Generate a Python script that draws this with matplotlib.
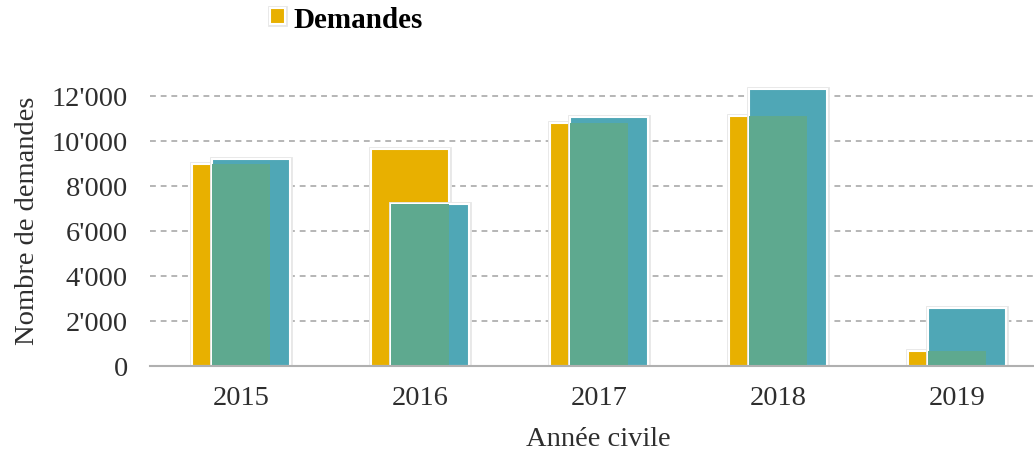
import matplotlib.pyplot as plt
import matplotlib.patheffects as pe
import numpy as np

years = ['2015', '2016', '2017', '2018', '2019']
demandes = [9000, 9650, 10800, 11100, 650]
second = [9200, 7200, 11050, 12300, 2580]
yticks = [0, 2000, 4000, 6000, 8000, 10000, 12000]
ytick_labels = ['0', "2'000", "4'000", "6'000", "8'000", "10'000", "12'000"]

yellow = '#E8B000'
teal = '#4FA7B6'
overlap = '#5EA98F'
text_col = '#2e2e2e'
fs = 20.5

plt.rcParams['font.family'] = ['Liberation Serif', 'DejaVu Serif']

fig = plt.figure(figsize=(10.34, 4.52), dpi=100)
ax = fig.add_axes([150 / 1034, 1 - 367 / 452, 1 - 150 / 1034, (367 - 74.5) / 452])

x = np.arange(len(years))
w = 0.435
off_y = -0.058
off_t = 0.053
shadow = [pe.Stroke(linewidth=3.5, foreground='#e8e8e8'), pe.Normal()]

yb = ax.bar(x + off_y, demandes, w, color=yellow, edgecolor='white',
            linewidth=1.5, zorder=3, path_effects=shadow, label='Demandes')
ax.bar(x + off_t, second, w, color=teal, edgecolor='white',
       linewidth=1.5, zorder=4, path_effects=shadow)
# region where the two bars overlap
ov_w = w - (off_t - off_y)
ax.bar(x + (off_t + off_y) / 2, np.minimum(demandes, second), ov_w,
       color=overlap, linewidth=0, zorder=5)

ax.set_xlim(-0.511, 4.427)
ax.set_ylim(0, 13000)
ax.set_yticks(yticks)
ax.set_yticklabels(ytick_labels)
ax.set_xticks(x)
ax.set_xticklabels(years)
ax.tick_params(axis='y', length=0, pad=16, labelsize=fs, labelcolor=text_col)
ax.tick_params(axis='x', length=0, pad=14, labelsize=fs, labelcolor=text_col)

for yv in yticks[1:]:
    ax.axhline(yv, color='#b5b5b5', lw=1.4, ls=(0, (3, 2.5)), zorder=1)

for s in ['top', 'right', 'left']:
    ax.spines[s].set_visible(False)
ax.spines['bottom'].set_color('#b0b0b0')
ax.spines['bottom'].set_linewidth(1.5)
ax.spines['bottom'].set_zorder(6)

ax.set_ylabel('Nombre de demandes', fontsize=fs, color=text_col)
ax.yaxis.set_label_coords(-110 / 884, 0.5)
fig.text(598 / 1034, 1 - 440 / 452, 'Année civile', fontsize=fs,
         color=text_col, ha='center', va='center')

fig.legend(handles=[yb], labels=['Demandes'], loc='center left',
           bbox_to_anchor=(270 / 1034, 1 - 20 / 452), frameon=False,
           handlelength=0.5, handleheight=0.5, handletextpad=0.3,
           borderpad=0, borderaxespad=0,
           prop={'weight': 'bold', 'size': fs + 0.5})

fig.savefig('out.png', dpi=100)
